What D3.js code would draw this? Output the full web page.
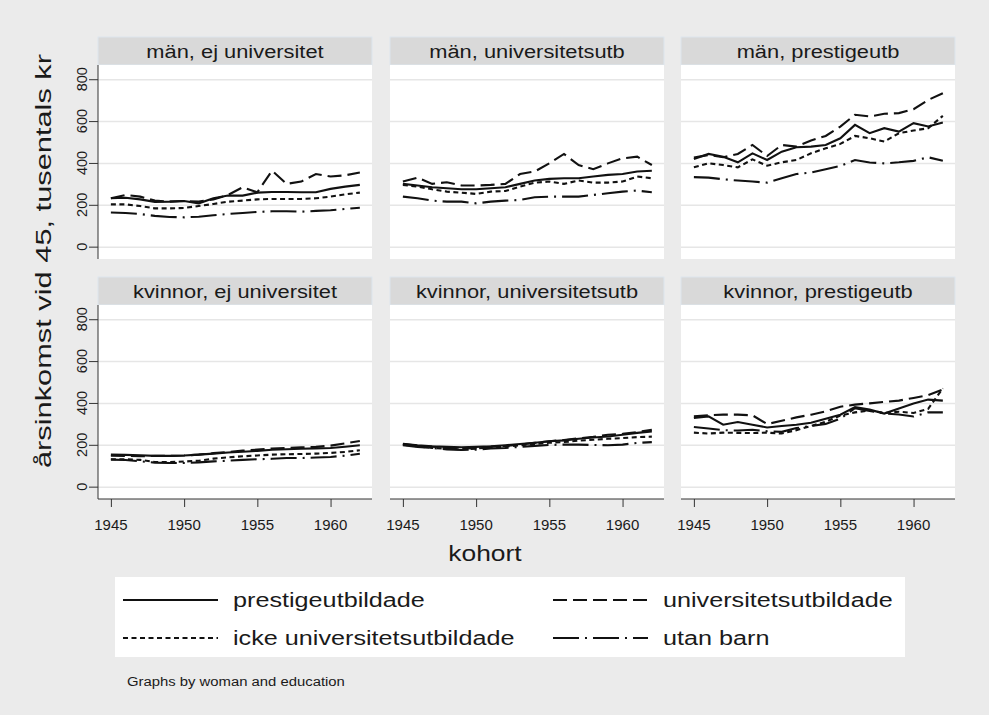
<!DOCTYPE html>
<html>
<head>
<meta charset="utf-8">
<script src="https://cdn.jsdelivr.net/npm/d3@7"></script>
<style>
	body { margin: 0; background: #ebebeb; }
	svg { display: block; }
	text { font-family: "Liberation Sans", Arial, sans-serif; fill: #1a1a1a; }
</style>
</head>
<body>
<svg id="chart" width="989" height="715"></svg>
<script>

// cohorts on the x axis
const years = [1945, 1946, 1947, 1948, 1949, 1950, 1951, 1952, 1953, 1954, 1955, 1956, 1957, 1958, 1959, 1960, 1961, 1962];

const seriesNames = ["prestigeutbildade", "universitetsutbildade", "icke universitetsutbildade", "utan barn"];

const panelTitles = [
	"män, ej universitet", "män, universitetsutb", "män, prestigeutb",
	"kvinnor, ej universitet", "kvinnor, universitetsutb", "kvinnor, prestigeutb"
];

const yTicks = [0, 200, 400, 600, 800];
const xTicks = [1945, 1950, 1955, 1960];

// each panel: [prestige, universitet, icke universitet, utan barn]
const manEjUniv = [
	[231, 234, 226, 214, 215, 218, 207, 231, 244, 244, 258, 261, 261, 260, 260, 276, 287, 295],
	[231, 247, 239, 220, 215, 218, 215, 226, 247, 284, 260, 363, 300, 311, 347, 335, 341, 354],
	[202, 202, 194, 183, 183, 185, 194, 204, 215, 220, 226, 228, 228, 228, 231, 239, 250, 258],
	[163, 161, 156, 147, 142, 140, 143, 150, 156, 161, 166, 169, 169, 167, 171, 174, 180, 186]
];
const manUniv = [
	[300, 292, 284, 279, 274, 274, 279, 284, 300, 316, 324, 327, 327, 335, 343, 347, 359, 363],
	[311, 330, 300, 308, 292, 292, 295, 300, 347, 359, 398, 443, 390, 370, 398, 422, 430, 390],
	[295, 287, 274, 263, 258, 252, 263, 266, 287, 306, 311, 300, 316, 306, 306, 311, 335, 327],
	[239, 231, 220, 215, 215, 207, 215, 220, 223, 236, 239, 239, 239, 247, 255, 263, 268, 260]
];
const manPrestige = [
	[419, 443, 430, 403, 446, 414, 454, 475, 478, 486, 518, 582, 542, 566, 550, 590, 574, 593],
	[426, 438, 427, 443, 486, 433, 486, 478, 507, 529, 574, 630, 622, 635, 638, 657, 701, 733],
	[379, 398, 390, 379, 417, 387, 403, 414, 446, 470, 491, 529, 518, 502, 542, 555, 566, 625],
	[332, 330, 322, 316, 311, 306, 327, 347, 354, 370, 386, 414, 402, 398, 403, 410, 427, 410]
];
const kvinnorEjUniv = [
	[153, 152, 150, 147, 147, 149, 153, 158, 163, 167, 171, 176, 179, 181, 183, 185, 191, 198],
	[148, 147, 145, 147, 147, 149, 153, 160, 166, 172, 177, 182, 185, 188, 190, 196, 207, 218],
	[131, 131, 128, 118, 118, 120, 124, 134, 140, 145, 149, 153, 155, 156, 158, 161, 166, 174],
	[129, 127, 121, 115, 113, 113, 116, 121, 124, 128, 131, 133, 137, 137, 139, 142, 148, 157]
];
const kvinnorUniv = [
	[205, 198, 193, 190, 188, 190, 193, 198, 204, 210, 217, 221, 229, 235, 240, 248, 257, 264],
	[204, 196, 191, 185, 181, 185, 191, 194, 201, 209, 217, 223, 231, 238, 248, 252, 261, 272],
	[201, 193, 185, 182, 178, 182, 188, 191, 198, 204, 210, 213, 220, 224, 229, 232, 237, 239],
	[198, 190, 185, 178, 175, 177, 182, 185, 190, 195, 199, 201, 201, 199, 198, 201, 209, 213]
];
const kvinnorPrestige = [
	[328, 336, 296, 309, 296, 283, 290, 296, 305, 325, 344, 380, 368, 349, 373, 397, 416, 411],
	[336, 341, 344, 344, 341, 299, 315, 331, 344, 360, 382, 392, 398, 405, 411, 424, 437, 464],
	[258, 254, 258, 257, 256, 258, 254, 270, 290, 310, 340, 355, 364, 352, 358, 352, 372, 470],
	[285, 278, 270, 268, 272, 265, 262, 280, 290, 300, 325, 375, 362, 350, 345, 335, 355, 355]
];

const panelData = [manEjUniv, manUniv, manPrestige, kvinnorEjUniv, kvinnorUniv, kvinnorPrestige];

// stata-ish line patterns
const dashes = [null, "14,6", "5,3.5", "26,6,2,6"];

const svg = d3.select("#chart");

// text helper, sx stretches along the reading direction (stata text runs wide)
function stext(g, x, y, str, size, anchor, rot, sx) {
	return g.append("text")
		.attr("transform", "translate(" + x + "," + y + ") rotate(" + (rot || 0) + ") scale(" + (sx || 1) + ",1)")
		.attr("text-anchor", anchor || "start")
		.style("font-size", size + "px")
		.text(str);
}

svg.append("rect").attr("width", 989).attr("height", 715).attr("fill", "#ebebeb");

const colX = [98, 390, 681];
const rowY = [37, 277];
const plotW = 274, plotH = 194, headH = 28;

const x = d3.scaleLinear().domain([1944.12, 1962.83]).range([0, plotW]);
const y = d3.scaleLinear().domain([-59, 868]).range([plotH, 0]);

const line = d3.line()
	.x((d, i) => x(years[i]))
	.y(d => y(d));

panelData.forEach((data, p) => {
	const col = p % 3, row = Math.floor(p / 3);
	const g = svg.append("g")
		.attr("transform", "translate(" + colX[col] + "," + rowY[row] + ")");

	// header strip
	g.append("rect")
		.attr("x", 0).attr("y", 0)
		.attr("width", plotW).attr("height", headH)
		.attr("fill", "#d9d9d9")
		.attr("stroke", "#dde6ee").attr("stroke-width", 1);
	stext(g, plotW / 2, 21, panelTitles[p], 19, "middle", 0, 1.15);

	const pg = g.append("g").attr("transform", "translate(0," + headH + ")");
	pg.append("rect").attr("width", plotW).attr("height", plotH).attr("fill", "white");

	// grid
	pg.append("g")
		.call(d3.axisLeft(y).tickValues(yTicks).tickSize(-plotW).tickFormat(""))
		.call(a => a.select(".domain").remove())
		.call(a => a.selectAll("line").attr("stroke", "#e6e6e6").attr("stroke-width", 1.5));

	data.forEach((vals, s) => {
		pg.append("path")
			.datum(vals)
			.attr("d", line)
			.attr("fill", "none")
			.attr("stroke", "#111")
			.attr("stroke-width", 2.1)
			.attr("stroke-dasharray", dashes[s]);
	});

	if (col === 0) {
		const ya = pg.append("g")
			.call(d3.axisLeft(y).tickValues(yTicks).tickSize(9).tickFormat(""));
		ya.select(".domain").attr("d", "M0,0V" + plotH).attr("stroke", "#333");
		ya.selectAll(".tick line").attr("stroke", "#333");
		yTicks.forEach(t => stext(pg, -11, y(t), t, 14.5, "middle", -90, 1));
	}
	if (row === 1) {
		const xa = pg.append("g")
			.attr("transform", "translate(0," + plotH + ")")
			.call(d3.axisBottom(x).tickValues(xTicks).tickSize(8).tickFormat(""));
		xa.select(".domain").attr("d", "M0,0H" + plotW).attr("stroke", "#333");
		xa.selectAll(".tick line").attr("stroke", "#333");
		xTicks.forEach(t => stext(pg, x(t), plotH + 31, t, 15, "middle", 0, 1));
	}
});

// axis titles
stext(svg, 51, 261, "årsinkomst vid 45, tusentals kr", 22, "middle", -90, 1.4);
stext(svg, 485, 561, "kohort", 22, "middle", 0, 1.2);

// legend
const leg = svg.append("g");
leg.append("rect").attr("x", 115).attr("y", 577).attr("width", 790).attr("height", 80).attr("fill", "white");
const legPos = [[123, 600], [553, 600], [123, 638], [553, 638]];
seriesNames.forEach((name, s) => {
	const [lx, ly] = legPos[s];
	leg.append("line")
		.attr("x1", lx).attr("x2", lx + 95)
		.attr("y1", ly).attr("y2", ly)
		.attr("stroke", "#111").attr("stroke-width", 2.1)
		.attr("stroke-dasharray", dashes[s]);
	stext(leg, lx + 110, ly + 7, name, 21, "start", 0, 1.2);
});

stext(svg, 127, 686, "Graphs by woman and education", 13.5, "start", 0, 1.1);

</script>
</body>
</html>
